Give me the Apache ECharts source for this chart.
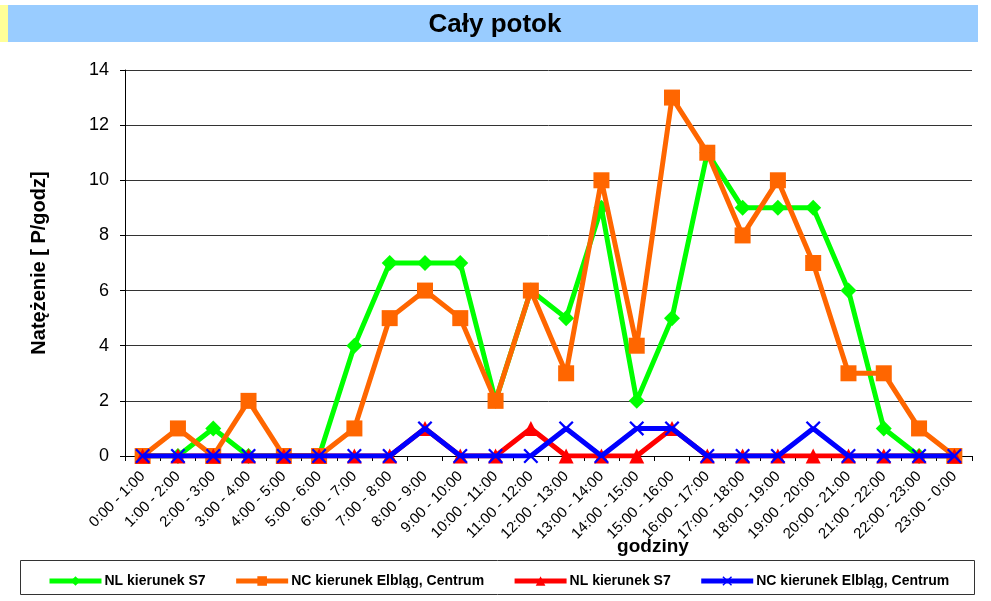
<!DOCTYPE html>
<html>
<head>
<meta charset="utf-8">
<script src="https://cdn.jsdelivr.net/npm/echarts@6/dist/echarts.min.js"></script>
<style>html,body{margin:0;padding:0;background:#fff}#c{width:991px;height:601px}</style>
</head>
<body>
<div id="c"></div>
<script>
const categories = ['0:00 - 1:00','1:00 - 2:00','2:00 - 3:00','3:00 - 4:00','4:00 - 5:00','5:00 - 6:00','6:00 - 7:00','7:00 - 8:00','8:00 - 9:00','9:00 - 10:00','10:00 - 11:00','11:00 - 12:00','12:00 - 13:00','13:00 - 14:00','14:00 - 15:00','15:00 - 16:00','16:00 - 17:00','17:00 - 18:00','18:00 - 19:00','19:00 - 20:00','20:00 - 21:00','21:00 - 22:00','22:00 - 23:00','23:00 - 0:00'];
const nlS7Green = [0,0,1,0,0,0,4,7,7,7,2,6,5,9,2,5,11,9,9,9,6,1,0,0];
const ncElblagOrange = [0,1,0,2,0,0,1,5,6,5,2,6,3,10,4,13,11,8,10,7,3,3,1,0];
const nlS7Red = [0,0,0,0,0,0,0,0,1,0,0,1,0,0,0,1,0,0,0,0,0,0,0,0];
const ncElblagBlue = [0,0,0,0,0,0,0,0,1,0,0,0,1,0,1,1,0,0,0,1,0,0,0,0];
const seriesNames = ['NL kierunek S7','NC kierunek Elbląg, Centrum','NL kierunek S7 ','NC kierunek Elbląg, Centrum '];

const FONT = 'Liberation Sans';
const crossPath = 'path://M0,1.5 L1.5,0 L7,5.5 L12.5,0 L14,1.5 L8.5,7 L14,12.5 L12.5,14 L7,8.5 L1.5,14 L0,12.5 L5.5,7 Z';

const chart = echarts.init(document.getElementById('c'));
chart.setOption({
  animation: false,
  textStyle: { fontFamily: FONT },
  graphic: [
    { type: 'rect', shape: { x: 0, y: 5, width: 8, height: 37 }, style: { fill: '#FFFF99' }, z: -1 },
    { type: 'rect', shape: { x: 8, y: 5, width: 970, height: 37 }, style: { fill: '#99CCFF' }, z: -1 },
    { type: 'text', x: 495, y: 25, style: { text: 'Cały potok', font: 'bold 26px "Liberation Sans"', fill: '#000', align: 'center', verticalAlign: 'middle' } },
    { type: 'text', x: 653, y: 547, style: { text: 'godziny', font: 'bold 19px "Liberation Sans"', fill: '#000', align: 'center', verticalAlign: 'middle' } },
    { type: 'rect', shape: { x: 20.5, y: 560.5, width: 954, height: 34 }, style: { fill: 'none', stroke: '#333', lineWidth: 1 }, z: -1 }
  ],
  legend: {
    left: 42, top: 569,
    itemWidth: 52, itemHeight: 12, itemGap: 28,
    lineStyle: { width: 5 },
    textStyle: { fontFamily: FONT, fontWeight: 'bold', fontSize: 14, color: '#000', padding: [0, 0, 0, -2] },
    data: seriesNames,
    formatter: n => n.trim()
  },
  grid: { left: 125, right: 19, top: 70, bottom: 145 },
  xAxis: {
    type: 'category', data: categories, boundaryGap: true,
    axisLine: { lineStyle: { color: '#000', width: 1 } },
    axisTick: { show: true, length: 5, lineStyle: { color: '#000' } },
    axisLabel: { interval: 0, rotate: 45, fontSize: 15, color: '#000', fontFamily: FONT, margin: 18 }
  },
  yAxis: {
    type: 'value', min: 0, max: 14, interval: 2,
    name: 'Natężenie [ P/godz]', nameLocation: 'middle', nameGap: 76, nameRotate: 90,
    nameTextStyle: { fontFamily: FONT, fontWeight: 'bold', fontSize: 20, color: '#000' },
    axisLine: { show: true, lineStyle: { color: '#000', width: 1 } },
    axisTick: { show: true, length: 5, lineStyle: { color: '#000' } },
    axisLabel: { fontSize: 18, color: '#000', fontFamily: FONT, margin: 16 },
    splitLine: { lineStyle: { color: '#333', width: 1 } }
  },
  series: [
    { name: seriesNames[0], type: 'line', data: nlS7Green, symbol: 'diamond', symbolSize: 16,
      lineStyle: { color: '#00FF00', width: 5 }, itemStyle: { color: '#00FF00' }, z: 2 },
    { name: seriesNames[1], type: 'line', data: ncElblagOrange, symbol: 'rect', symbolSize: 16,
      lineStyle: { color: '#FF6600', width: 5 }, itemStyle: { color: '#FF6600' }, z: 3 },
    { name: seriesNames[2], type: 'line', data: nlS7Red, symbol: 'triangle', symbolSize: 15,
      lineStyle: { color: '#FF0000', width: 5 }, itemStyle: { color: '#FF0000' }, z: 4 },
    { name: seriesNames[3], type: 'line', data: ncElblagBlue, symbol: crossPath, symbolSize: 15,
      lineStyle: { color: '#0000FF', width: 5 }, itemStyle: { color: '#0000FF' }, z: 5 }
  ]
});
</script>
</body>
</html>
